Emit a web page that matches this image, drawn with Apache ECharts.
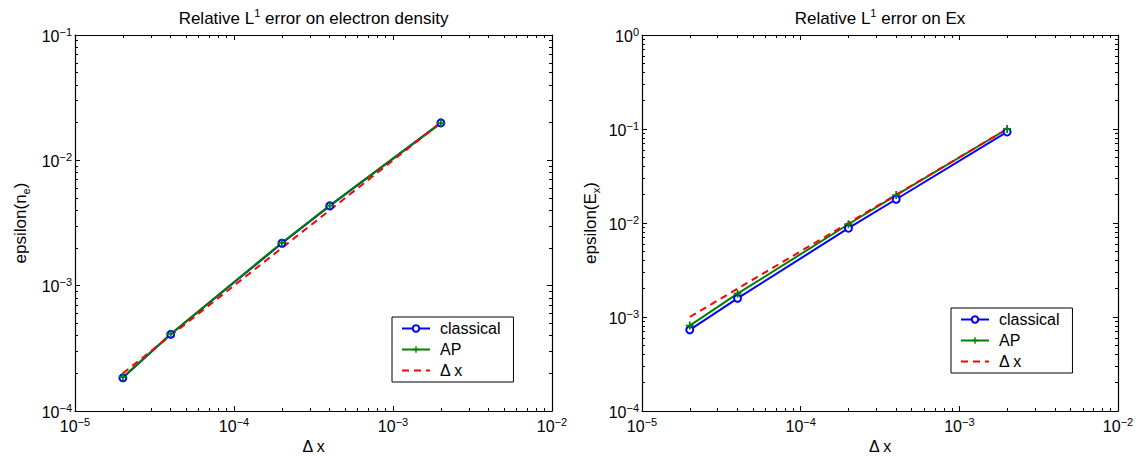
<!DOCTYPE html>
<html><head><meta charset="utf-8">
<script src="https://cdn.jsdelivr.net/npm/echarts@6/dist/echarts.min.js"></script>
<style>html,body{margin:0;padding:0;background:#fff}#c{width:1136px;height:457px}</style>
</head><body><div id="c"></div>
<script>
// ---- data ----
const dx = [2e-5, 4e-5, 2e-4, 4e-4, 2e-3];
const neClassical = [1.84e-4, 4.09e-4, 2.18e-3, 4.33e-3, 1.99e-2];
const neAP = [1.86e-4, 4.12e-4, 2.20e-3, 4.36e-3, 1.98e-2];
const neRef = [2.0e-4, 4.0e-4, 2.0e-3, 4.0e-3, 2.0e-2];
const exClassical = [7.3e-4, 1.58e-3, 8.8e-3, 1.79e-2, 9.3e-2];
const exAP = [8.1e-4, 1.77e-3, 9.7e-3, 1.98e-2, 1.0e-1];
const exRef = [1.0e-3, 2.0e-3, 1.0e-2, 2.0e-2, 1.0e-1];
const xTicks = [1e-5, 1e-4, 1e-3, 1e-2];
const neYTicks = [1e-4, 1e-3, 1e-2, 1e-1];
const exYTicks = [1e-4, 1e-3, 1e-2, 1e-1, 1];
const seriesNames = ['classical', 'AP', '\u0394 x'];

const FONT = '"Liberation Sans", Arial, Helvetica, sans-serif';
const BLUE = '#0000ff', GREEN = '#008000', RED = '#ff0000';

function minors(majors) {
  const out = [];
  for (let i = 0; i < majors.length - 1; i++) for (let k = 2; k <= 9; k++) out.push(k * majors[i]);
  return out;
}
const tickRich = {
  b: {fontSize: 16, lineHeight: 18, padding: [4, 0, 0, 0], verticalAlign: 'bottom', color: '#000', fontFamily: FONT},
  s: {fontSize: 11, lineHeight: 11, verticalAlign: 'top', color: '#000', fontFamily: FONT}
};
function fmt(v) {
  const e = Math.round(Math.log10(v));
  return '{b|10}{s|' + (e < 0 ? '\u2212' + (-e) : String(e)) + '}';
}
function axesFor(dim, grid, majors, mainExtra, oppExtra) {
  const lo = majors[0], hi = majors[majors.length - 1];
  const mins = minors(majors);
  const pos = dim === 'x' ? ['bottom', 'top'] : ['left', 'right'];
  const margin = dim === 'x' ? 5 : 3;
  const mk = (p, ticks, len, line, label, extra) => Object.assign({
    type: 'log', logBase: 10, gridIndex: grid, min: lo, max: hi, position: p,
    splitLine: {show: false}, minorTick: {show: false}, minorSplitLine: {show: false},
    axisLine: {show: line, onZero: false, lineStyle: {color: '#000', width: 1.2}},
    axisTick: {show: true, inside: true, length: len, customValues: ticks, lineStyle: {color: '#000', width: 1}},
    axisLabel: label ? {show: true, customValues: majors, formatter: fmt, margin: margin, rich: tickRich} : {show: false},
    axisPointer: {show: false}
  }, extra || {});
  return [
    mk(pos[0], majors, 5, true, true, mainExtra),
    mk(pos[0], mins, 3, false, false),
    mk(pos[1], majors, 5, true, false, oppExtra),
    mk(pos[1], mins, 3, false, false)
  ];
}
const titleRich = {
  t: {fontSize: 17, lineHeight: 20, padding: [4, 0, 0, 0], verticalAlign: 'bottom', color: '#000', fontFamily: FONT},
  ts: {fontSize: 11, lineHeight: 11, verticalAlign: 'top', color: '#000', fontFamily: FONT}
};
const ynameRich = {
  a: {fontSize: 17, lineHeight: 19, padding: [0, 0, 3, 0], verticalAlign: 'top', color: '#000', fontFamily: FONT},
  sub: {fontSize: 11, lineHeight: 11, verticalAlign: 'bottom', color: '#000', fontFamily: FONT}
};
const xName = {name: '\u0394 x', nameLocation: 'middle', nameGap: 25,
  nameTextStyle: {fontSize: 16, color: '#000', fontFamily: FONT}};
function titleOpt(pre, post) {
  return {name: '{t|' + pre + '}{ts|1}{t|' + post + '}', nameLocation: 'middle', nameGap: 8,
    nameTextStyle: {rich: titleRich}};
}
function yNameOpt(base, sub, gap) {
  return {name: '{a|' + base + '}{sub|' + sub + '}{a|)}', nameLocation: 'middle', nameRotate: 90, nameGap: gap,
    nameTextStyle: {rich: ynameRich}};
}

const xAxes = [].concat(
  axesFor('x', 0, xTicks, xName, titleOpt('Relative L', ' error on electron density')),
  axesFor('x', 1, xTicks, xName, titleOpt('Relative L', ' error on Ex'))
);
const yAxes = [].concat(
  axesFor('y', 0, neYTicks, yNameOpt('epsilon(n', 'e', 44)),
  axesFor('y', 1, exYTicks, yNameOpt('epsilon(E', 'x', 41))
);

function pts(xs, ys) { return xs.map((x, i) => [x, ys[i]]); }
const PLUS = 'path://M-1,-0.22H1V0.22H-1Z M-0.22,-1H0.22V1H-0.22Z';
function mkSeries(ax, cls, ap, ref) {
  return [
    {name: seriesNames[0], type: 'line', xAxisIndex: ax, yAxisIndex: ax, data: pts(dx, cls),
      symbol: 'emptyCircle', symbolSize: 7, lineStyle: {color: BLUE, width: 2},
      itemStyle: {color: BLUE, borderColor: BLUE, borderWidth: 1.6}},
    {name: seriesNames[1], type: 'line', xAxisIndex: ax, yAxisIndex: ax, data: pts(dx, ap),
      symbol: PLUS, symbolSize: 8, lineStyle: {color: GREEN, width: 2},
      itemStyle: {color: GREEN}},
    {name: seriesNames[2], type: 'line', xAxisIndex: ax, yAxisIndex: ax, data: pts(dx, ref),
      symbol: 'none', lineStyle: {color: RED, width: 2, type: [7, 5]},
      itemStyle: {color: 'rgba(0,0,0,0)', borderWidth: 0}}
  ];
}
const legendBase = {
  orient: 'vertical',
  data: [
    {name: seriesNames[0]},
    {name: seriesNames[1]},
    {name: seriesNames[2], itemStyle: {color: 'rgba(0,0,0,0)', borderWidth: 0, opacity: 0}}
  ],
  itemGap: 0, itemWidth: 28, itemHeight: 8,
  padding: [1, 13, 1, 9], borderColor: '#000', borderWidth: 1, backgroundColor: '#fff',
  textStyle: {fontSize: 16, lineHeight: 21, color: '#000', fontFamily: FONT, padding: [0, 0, 0, 5]},
  selectedMode: false
};

const chart = echarts.init(document.getElementById('c'), null, {renderer: 'svg'});
chart.setOption({
  animation: false,
  backgroundColor: '#fff',
  textStyle: {fontFamily: FONT},
  grid: [
    {left: 75, top: 35, width: 477, height: 376, outerBoundsMode: 'none'},
    {left: 642, top: 35, width: 476, height: 376, outerBoundsMode: 'none'}
  ],
  xAxis: xAxes,
  yAxis: yAxes,
  legend: [
    Object.assign({}, legendBase, {left: 392, top: 317}),
    Object.assign({}, legendBase, {left: 951, top: 308})
  ],
  series: [].concat(mkSeries(0, neClassical, neAP, neRef), mkSeries(4, exClassical, exAP, exRef))
});
</script>
</body></html>
